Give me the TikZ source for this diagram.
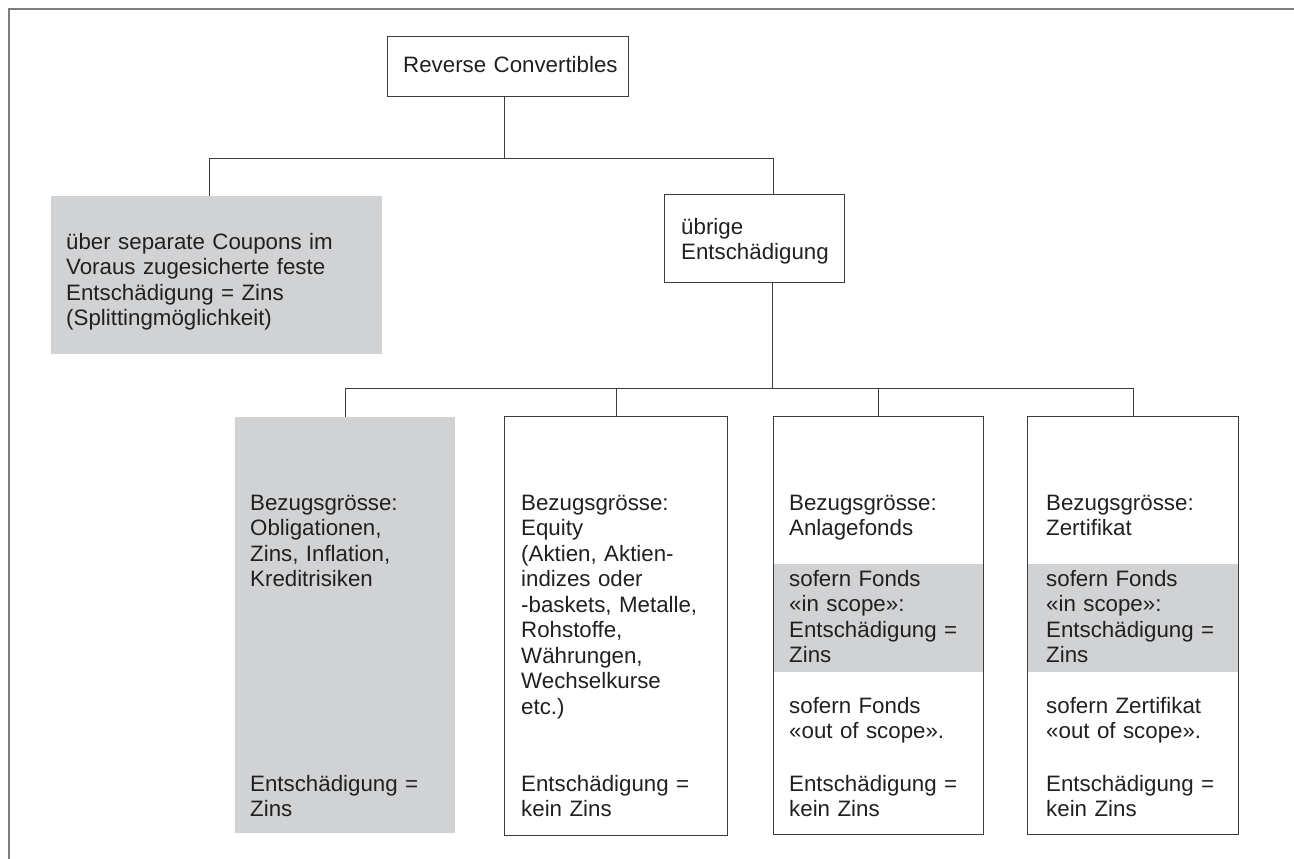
\documentclass[tikz,border=0pt]{standalone}
\usepackage{fontspec}
\setmainfont{Liberation Sans}
\usetikzlibrary{calc,positioning}
\definecolor{fillgrey}{RGB}{209,210,212}
\definecolor{linegrey}{RGB}{60,60,60}
\definecolor{framegrey}{RGB}{125,125,125}
\definecolor{textdark}{RGB}{35,31,32}
\newcommand{\boxfont}{\fontsize{22.3pt}{25.5pt}\selectfont}
\tikzset{
  outerframe/.style={draw=framegrey, line width=2pt},
  boxframe/.style={
    rectangle,
    draw=linegrey, line width=1.3pt,
    anchor=north west,
    inner sep=0pt},
  greybox/.style={
    rectangle,
    fill=fillgrey,
    anchor=north west,
    inner sep=0pt},
  boxtext/.style={
    anchor=base west,
    inner sep=0pt,
    text width=#1,
    align=left,
    font=\boxfont,
    text=textdark},
  boxtext/.default=200pt,
  conn/.style={draw=linegrey, line width=1.3pt},
}

\begin{document}
\begin{tikzpicture}[x=1pt, y=-1pt]
    \useasboundingbox (0,0) rectangle (1294,859);
    \draw[outerframe] (9,859) -- (9,9) -- (1294,9);

    % boxes
    \node[boxframe, minimum width=241pt, minimum height=60pt]  (rc)      at (387,36)  {};
    \node[greybox,  minimum width=331pt, minimum height=158pt] (coupon)  at (51,196)  {};
    \node[boxframe, minimum width=180pt, minimum height=88pt]  (uebrige) at (664,194) {};
    \node[greybox,  minimum width=220pt, minimum height=416pt] (bond)    at (235,417) {};
    \node[boxframe, minimum width=223pt, minimum height=419pt] (equity)  at (504,416) {};
    \node[greybox,  minimum width=210pt, minimum height=108pt] (fondsband) at (773,564) {};
    \node[boxframe, minimum width=210pt, minimum height=418pt] (fonds)   at (773,416) {};
    \node[greybox,  minimum width=211pt, minimum height=108pt] (zertband) at (1027,564) {};
    \node[boxframe, minimum width=211pt, minimum height=418pt] (zert)    at (1027,416) {};

    % texts
    \node[boxtext=230pt] (rctext) at (403,73) {Reverse Convertibles};
    \node[boxtext=300pt] (coupontext) at (66,249)
        {über separate Coupons im\\ Voraus zugesicherte feste\\ Entschädigung = Zins\\ (Splittingmöglichkeit)};
    \node[boxtext=170pt] (uebrigetext) at (681,234) {übrige\\ Entschädigung};

    \node[boxtext] (bondtop) at (250,510) {Bezugsgrösse:\\ Obligationen,\\ Zins, Inflation,\\ Kreditrisiken};
    \node[boxtext] (bondbot) at (250,791) {Entschädigung =\\ Zins};

    \node[boxtext] (equitytop) at (521,510)
        {Bezugsgrösse:\\ Equity\\ (Aktien, Aktien-\\ indizes oder\\ -baskets, Metalle,\\ Rohstoffe,\\ Währungen,\\ Wechselkurse\\ etc.)};
    \node[boxtext] (equitybot) at (521,791) {Entschädigung =\\ kein Zins};

    \node[boxtext] (fondstop) at (789,510) {Bezugsgrösse:\\ Anlagefonds};
    \node[boxtext] (fondsin)  at (789,586) {sofern Fonds\\ «in scope»:\\ Entschädigung =\\ Zins};
    \node[boxtext] (fondsout) at (789,713) {sofern Fonds\\ «out of scope».};
    \node[boxtext] (fondsbot) at (789,791) {Entschädigung =\\ kein Zins};

    \node[boxtext] (zerttop) at (1046,510) {Bezugsgrösse:\\ Zertifikat};
    \node[boxtext] (zertin)  at (1046,586) {sofern Fonds\\ «in scope»:\\ Entschädigung =\\ Zins};
    \node[boxtext] (zertout) at (1046,713) {sofern Zertifikat\\ «out of scope».};
    \node[boxtext] (zertbot) at (1046,791) {Entschädigung =\\ kein Zins};

    % connectors
    \draw[conn] ([xshift=-3.5pt]rc.south) -- ++(0,61) coordinate (topbar);
    \draw[conn] ([xshift=-7.5pt]coupon.north) |- (topbar) -| ([xshift=19pt]uebrige.north);
    \draw[conn] ([xshift=18pt]uebrige.south) -- ++(0,105) coordinate (lowbar);
    \draw[conn] (bond.north) |- (lowbar) -| (zert.north);
    \draw[conn] (equity.north) -- (equity.north |- lowbar);
    \draw[conn] (fonds.north) -- (fonds.north |- lowbar);
\end{tikzpicture}
\end{document}
